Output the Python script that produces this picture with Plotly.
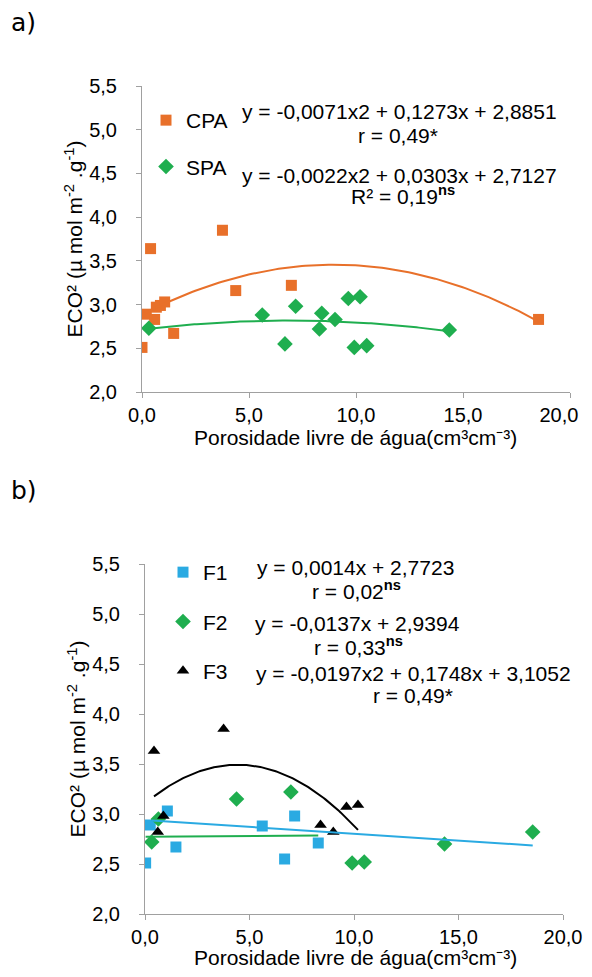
import numpy as np
import plotly.graph_objects as go

# ---------------- data ----------------
cpa_x = [0.0, 0.2, 0.4, 0.59, 0.67, 0.86, 1.06, 1.48, 3.76, 4.38, 6.98, 18.53]
cpa_y = [2.51, 2.89, 3.64, 2.83, 2.97, 2.99, 3.03, 2.67, 3.85, 3.16, 3.22, 2.83]

spa_x = [0.32, 5.62, 6.68, 7.18, 8.29, 8.40, 9.02, 9.64, 9.92, 10.19, 10.50, 14.36]
spa_y = [2.73, 2.88, 2.55, 2.98, 2.72, 2.90, 2.83, 3.07, 2.51, 3.09, 2.53, 2.71]

f1_x = [0.03, 0.25, 1.07, 1.48, 5.61, 6.68, 7.16, 8.29]
f1_y = [2.51, 2.89, 3.03, 2.67, 2.88, 2.55, 2.98, 2.71]

f2_x = [0.32, 0.64, 4.38, 6.98, 9.91, 10.49, 14.33, 18.55]
f2_y = [2.72, 2.95, 3.15, 3.22, 2.51, 2.52, 2.70, 2.82]

f3_x = [0.43, 0.61, 0.88, 3.76, 8.40, 9.01, 9.64, 10.19]
f3_y = [3.63, 2.82, 2.98, 3.85, 2.89, 2.82, 3.07, 3.09]

# trendline coefficients (highest power first), as printed on the chart
cpa_coef = [-0.0071, 0.1273, 2.8851]
spa_coef = [-0.0022, 0.0303, 2.7127]
f1_coef = [0.0014, 2.7723]
f2_coef = [-0.0137, 2.9394]
f3_coef = [-0.0197, 0.1748, 3.1052]

x_ticks = [0, 5, 10, 15, 20]
# last label of panel a is nudged left (as in the original) with trailing no-break spaces
x_ticklabels_a = ["0,0", "5,0", "10,0", "15,0", "20,0\u00a0\u00a0\u00a0\u00a0"]
x_ticklabels_b = ["0,0", "5,0", "10,0", "15,0", "20,0"]
y_ticks = [2.0, 2.5, 3.0, 3.5, 4.0, 4.5, 5.0, 5.5]

# ---------------- style ----------------
ORANGE = "#E8702A"
GREEN = "#1FAE4F"
BLUE = "#2AAAE2"
BLACK = "#000000"
AXIS = "#A0A0A0"
TXT = "#000000"
FONT = "Liberation Sans, Arial, sans-serif"
FS = 21      # equations / titles / legend
FT = 20      # tick labels


def curve(coef, xs):
    lo, hi = min(xs), max(xs)
    xx = np.linspace(lo, hi, 120)
    return xx, np.polyval(coef, xx)


fig = go.Figure()

# ---- panel a ----
fig.add_trace(go.Scatter(x=cpa_x, y=cpa_y, mode="markers", name="CPA",
                         marker=dict(symbol="square", size=11, color=ORANGE),
                         xaxis="x", yaxis="y", legend="legend", legendgroup="a1"))
fig.add_trace(go.Scatter(x=spa_x, y=spa_y, mode="markers", name="SPA",
                         marker=dict(symbol="diamond", size=12, color=GREEN),
                         xaxis="x", yaxis="y", legend="legend", legendgroup="a2"))
xx, yy = curve(cpa_coef, cpa_x)
fig.add_trace(go.Scatter(x=xx, y=yy, mode="lines", line=dict(color=ORANGE, width=2),
                         showlegend=False, xaxis="x", yaxis="y", hoverinfo="skip"))
xx, yy = curve(spa_coef, spa_x)
fig.add_trace(go.Scatter(x=xx, y=yy, mode="lines", line=dict(color=GREEN, width=2),
                         showlegend=False, xaxis="x", yaxis="y", hoverinfo="skip"))

# ---- panel b ----
fig.add_trace(go.Scatter(x=f1_x, y=f1_y, mode="markers", name="F1",
                         marker=dict(symbol="square", size=11, color=BLUE),
                         xaxis="x2", yaxis="y2", legend="legend2", legendgroup="b1"))
fig.add_trace(go.Scatter(x=f2_x, y=f2_y, mode="markers", name="F2",
                         marker=dict(symbol="diamond", size=12, color=GREEN),
                         xaxis="x2", yaxis="y2", legend="legend2", legendgroup="b2"))
fig.add_trace(go.Scatter(x=f3_x, y=f3_y, mode="markers", name="F3",
                         marker=dict(symbol="triangle-up", size=11, color=BLACK),
                         xaxis="x2", yaxis="y2", legend="legend2", legendgroup="b3"))
# trendlines as drawn in the original (blue line follows the F2 fit, green the F1 fit)
xx, yy = curve(f2_coef, f2_x)
fig.add_trace(go.Scatter(x=xx, y=yy, mode="lines", line=dict(color=BLUE, width=2),
                         showlegend=False, xaxis="x2", yaxis="y2", hoverinfo="skip"))
xx, yy = curve(f1_coef, f1_x)
fig.add_trace(go.Scatter(x=xx, y=yy, mode="lines", line=dict(color=GREEN, width=2),
                         showlegend=False, xaxis="x2", yaxis="y2", hoverinfo="skip"))
xx, yy = curve(f3_coef, f3_x)
fig.add_trace(go.Scatter(x=xx, y=yy, mode="lines", line=dict(color=BLACK, width=2),
                         showlegend=False, xaxis="x2", yaxis="y2", hoverinfo="skip"))

# page body has an 8px default margin: the figure sits at (8, 8)
OFF = 8
W, H = 592 - OFF, 977 - OFF


def px(xp):
    return (xp - OFF) / W


def py(yp):
    return 1 - (yp - OFF) / H


xtitle = "Porosidade livre de água(cm³cm⁻³)"
ytitle = "ECO² (µ mol m<sup>-2</sup> .g<sup>-1</sup>)"

axis_common = dict(showline=True, linecolor=AXIS, linewidth=1, ticks="outside",
                   tickcolor=AXIS, ticklen=5, showgrid=False, zeroline=False,
                   automargin=False, ticklabeloverflow="allow",
                   tickfont=dict(family=FONT, size=FT, color=TXT))

xa = dict(axis_common, range=[0, 20], tickvals=x_ticks)
ya = dict(axis_common, range=[2, 5.5], tickvals=y_ticks, tickformat=".1f",
          ticklabelstandoff=15,
          title=dict(text=ytitle, font=dict(family=FONT, size=FS, color=TXT), standoff=0))

fig.update_layout(
    template="none",
    width=W, height=H,
    margin=dict(l=0, r=0, t=0, b=0, pad=0),
    paper_bgcolor="white", plot_bgcolor="white",
    separators=",.",
    font=dict(family=FONT, size=FS, color=TXT),
    xaxis=dict(xa, ticktext=x_ticklabels_a, domain=[px(142), px(570)], anchor="y"),
    yaxis=dict(ya, domain=[py(392), py(86)], anchor="x"),
    xaxis2=dict(xa, ticktext=x_ticklabels_b, domain=[px(145), px(563)], anchor="y2"),
    yaxis2=dict(ya, domain=[py(914), py(564)], anchor="x2"),
    legend=dict(x=px(146), y=py(100), xanchor="left", yanchor="top",
                bgcolor="rgba(0,0,0,0)", tracegroupgap=16,
                font=dict(family=FONT, size=FS, color=TXT), itemwidth=30),
    legend2=dict(x=px(163), y=py(552), xanchor="left", yanchor="top",
                 bgcolor="rgba(0,0,0,0)", tracegroupgap=19,
                 font=dict(family=FONT, size=FS, color=TXT), itemwidth=30),
    showlegend=True,
)

ann = []


def note(x, y, text, size=FS, family=FONT):
    ann.append(dict(x=px(x), y=py(y), xref="paper", yref="paper", text=text,
                    showarrow=False, xanchor="center", yanchor="middle",
                    font=dict(family=family, size=size, color=TXT)))


note(23, 22, "a)", size=25, family="DejaVu Sans")
note(24, 490, "b)", size=25, family="DejaVu Sans")

# x-axis titles
note(355, 437, xtitle)
note(355, 957, xtitle)

note(399, 112, "y = -0,0071x2 + 0,1273x + 2,8851")
note(398, 135, "r = 0,49*")
note(399, 175, "y = -0,0022x2 + 0,0303x + 2,7127")
note(403, 195, "R² = 0,19<sup><b>ns</b></sup>")

note(355, 567, "y = 0,0014x + 2,7723")
note(356, 590, "r = 0,02<sup><b>ns</b></sup>")
note(357, 623, "y = -0,0137x + 2,9394")
note(358, 646, "r = 0,33<sup><b>ns</b></sup>")
note(413, 673, "y = -0,0197x2 + 0,1748x + 3,1052")
note(413, 695, "r = 0,49*")

fig.update_layout(annotations=ann)

fig.write_html("out.html")
